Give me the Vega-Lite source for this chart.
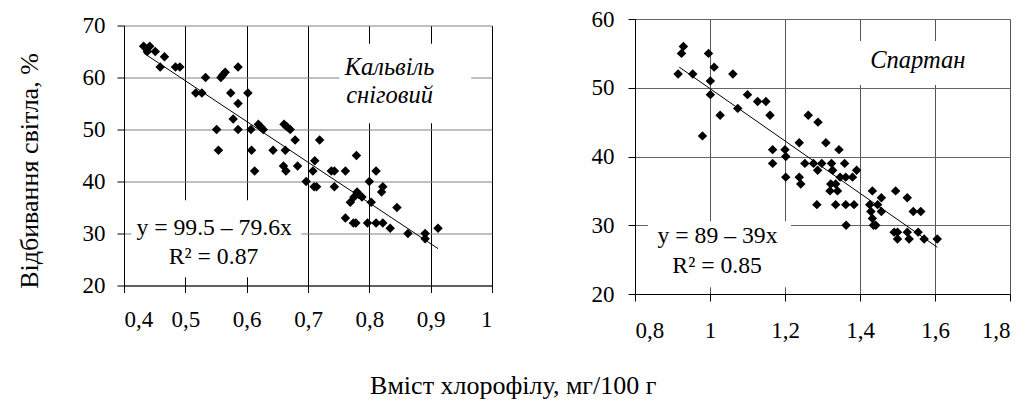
{
  "$schema": "https://vega.github.io/schema/vega-lite/v6.json",
  "background": "white",
  "padding": {"left": 15, "top": 8, "right": 2, "bottom": 5},
  "config": {
    "font": "'Liberation Serif', 'Times New Roman', 'DejaVu Serif', serif",
    "view": {"stroke": null},
    "text": {"font": "'Liberation Serif', 'Times New Roman', 'DejaVu Serif', serif"},
    "title": {"font": "'Liberation Serif', 'Times New Roman', 'DejaVu Serif', serif"},
    "axis": {
      "labelFont": "'Liberation Serif', 'Times New Roman', 'DejaVu Serif', serif",
      "titleFont": "'Liberation Serif', 'Times New Roman', 'DejaVu Serif', serif",
      "labelColor": "#000",
      "titleColor": "#000",
      "domainColor": "#000",
      "tickColor": "#000",
      "labelFontSize": 23,
      "titleFontSize": 26,
      "titleFontWeight": "normal",
      "tickSize": 7,
      "gridOpacity": 1,
      "gridWidth": 1,
      "domainWidth": 1
    }
  },
  "title": {"text": "Вміст хлорофілу, мг/100 г", "orient": "bottom", "anchor": "middle", "fontSize": 26, "fontWeight": "normal", "color": "#000", "offset": 31},
  "spacing": 98,
  "center": true,
  "hconcat": [
    {
      "width": 368,
      "height": 260,
      "encoding": {
        "x": {"field": "x", "type": "quantitative", "scale": {"domain": [0.4, 1.0], "nice": false, "zero": false},
          "axis": {"title": " ", "titleFontSize": 4, "titlePadding": 0, "values": [0.4, 0.5, 0.6, 0.7, 0.8, 0.9, 1.0], "labelExpr": "replace(format(datum.value, '.1~f'), '.', ',')", "grid": true, "gridColor": "#000", "labelPadding": 16}},
        "y": {"field": "y", "type": "quantitative", "scale": {"domain": [20, 70], "nice": false, "zero": false},
          "axis": {"title": "Відбивання світла, %", "values": [20, 30, 40, 50, 60, 70], "grid": true, "gridColor": "#808080", "labelPadding": 12, "titlePadding": 40, "titleY": 145}}
      },
      "layer": [
        {"data": {"name": "boxL"}, "mark": {"type": "rect", "fill": "white", "stroke": null}, "encoding": {"x2": {"field": "x2"}, "y2": {"field": "y2"}}},
        {"data": {"name": "trendL"}, "mark": {"type": "line", "color": "#000", "strokeWidth": 1}, "encoding": {}},
        {"data": {"name": "ptsL"}, "mark": {"type": "point", "shape": "diamond", "filled": true, "color": "#000", "size": 90, "opacity": 1}, "encoding": {}},
        {"data": {"name": "labL"}, "mark": {"type": "text", "fontStyle": "italic", "fontSize": 24.5, "color": "#000", "align": "center", "baseline": "middle"}, "encoding": {"text": {"field": "t"}}},
        {"data": {"name": "eqL"}, "mark": {"type": "text", "fontSize": 23.7, "color": "#000", "align": "center", "baseline": "middle"}, "encoding": {"text": {"field": "t"}}}
      ]
    },
    {
      "width": 375,
      "height": 275,
      "encoding": {
        "x": {"field": "x", "type": "quantitative", "scale": {"domain": [0.8, 1.8], "nice": false, "zero": false},
          "axis": {"title": null, "values": [0.8, 1.0, 1.2, 1.4, 1.6, 1.8], "labelExpr": "replace(format(datum.value, '.1~f'), '.', ',')", "grid": true, "gridColor": "#555", "labelPadding": 18}},
        "y": {"field": "y", "type": "quantitative", "scale": {"domain": [20, 60], "nice": false, "zero": false},
          "axis": {"title": null, "values": [20, 30, 40, 50, 60], "grid": true, "gridColor": "#666", "labelPadding": 14}}
      },
      "layer": [
        {"data": {"name": "boxR"}, "mark": {"type": "rect", "fill": "white", "stroke": null}, "encoding": {"x2": {"field": "x2"}, "y2": {"field": "y2"}}},
        {"data": {"name": "trendR"}, "mark": {"type": "line", "color": "#000", "strokeWidth": 1}, "encoding": {}},
        {"data": {"name": "ptsR"}, "mark": {"type": "point", "shape": "diamond", "filled": true, "color": "#000", "size": 90, "opacity": 1}, "encoding": {}},
        {"data": {"name": "labR"}, "mark": {"type": "text", "fontStyle": "italic", "fontSize": 24.5, "color": "#000", "align": "center", "baseline": "middle"}, "encoding": {"text": {"field": "t"}}},
        {"data": {"name": "eqR"}, "mark": {"type": "text", "fontSize": 23.7, "color": "#000", "align": "center", "baseline": "middle"}, "encoding": {"text": {"field": "t"}}}
      ]
    }
  ],
  "datasets": {
    "boxL": [{"x": 0.751, "x2": 0.966, "y": 66.5, "y2": 51.2}, {"x": 0.412, "x2": 0.689, "y": 36.4, "y2": 21.6}],
    "trendL": [{"x": 0.432, "y": 64.7}, {"x": 0.912, "y": 27.1}],
    "labL": [{"x": 0.833, "y": 61.9, "t": "Кальвіль"}, {"x": 0.833, "y": 56.5, "t": "сніговий"}],
    "eqL": [{"x": 0.547, "y": 31.0, "t": "y = 99.5 – 79.6x"}, {"x": 0.546, "y": 25.4, "t": "R² = 0.87"}],
    "ptsL": [
      {"x": 0.432, "y": 66}, {"x": 0.438, "y": 65}, {"x": 0.442, "y": 66}, {"x": 0.451, "y": 65}, {"x": 0.459, "y": 62},
      {"x": 0.466, "y": 64}, {"x": 0.484, "y": 62}, {"x": 0.491, "y": 62}, {"x": 0.517, "y": 57}, {"x": 0.527, "y": 57},
      {"x": 0.533, "y": 60}, {"x": 0.551, "y": 50}, {"x": 0.554, "y": 46}, {"x": 0.558, "y": 60}, {"x": 0.561, "y": 60.5},
      {"x": 0.565, "y": 61}, {"x": 0.574, "y": 57}, {"x": 0.578, "y": 52}, {"x": 0.586, "y": 55}, {"x": 0.586, "y": 62},
      {"x": 0.586, "y": 50}, {"x": 0.602, "y": 57}, {"x": 0.607, "y": 50}, {"x": 0.608, "y": 46}, {"x": 0.613, "y": 42},
      {"x": 0.619, "y": 51}, {"x": 0.623, "y": 50.5}, {"x": 0.627, "y": 50}, {"x": 0.643, "y": 46}, {"x": 0.661, "y": 51},
      {"x": 0.666, "y": 50.5}, {"x": 0.671, "y": 50}, {"x": 0.663, "y": 46}, {"x": 0.660, "y": 43}, {"x": 0.664, "y": 42},
      {"x": 0.679, "y": 48}, {"x": 0.683, "y": 43}, {"x": 0.697, "y": 40}, {"x": 0.708, "y": 42}, {"x": 0.711, "y": 44},
      {"x": 0.710, "y": 39}, {"x": 0.714, "y": 39}, {"x": 0.719, "y": 48}, {"x": 0.738, "y": 42}, {"x": 0.743, "y": 42},
      {"x": 0.743, "y": 39}, {"x": 0.761, "y": 42}, {"x": 0.761, "y": 33}, {"x": 0.769, "y": 36}, {"x": 0.774, "y": 32},
      {"x": 0.778, "y": 32}, {"x": 0.779, "y": 45}, {"x": 0.775, "y": 37}, {"x": 0.780, "y": 38}, {"x": 0.783, "y": 37.5},
      {"x": 0.788, "y": 37}, {"x": 0.800, "y": 40}, {"x": 0.803, "y": 36}, {"x": 0.797, "y": 32}, {"x": 0.811, "y": 42},
      {"x": 0.811, "y": 32}, {"x": 0.820, "y": 38}, {"x": 0.822, "y": 39}, {"x": 0.822, "y": 32}, {"x": 0.834, "y": 31},
      {"x": 0.845, "y": 35}, {"x": 0.863, "y": 30}, {"x": 0.891, "y": 30}, {"x": 0.891, "y": 29}, {"x": 0.912, "y": 31}
    ],
    "boxR": [{"x": 1.38, "x2": 1.72, "y": 56.8, "y2": 50.4}, {"x": 0.835, "x2": 1.216, "y": 30.6, "y2": 21}],
    "trendR": [{"x": 0.918, "y": 53.0}, {"x": 1.606, "y": 26.8}],
    "labR": [{"x": 1.554, "y": 53.9, "t": "Спартан"}],
    "eqR": [{"x": 1.02, "y": 28.5, "t": "y = 89 – 39x"}, {"x": 1.019, "y": 24.1, "t": "R² = 0.85"}],
    "ptsR": [
      {"x": 0.915, "y": 52}, {"x": 0.924, "y": 55}, {"x": 0.929, "y": 56}, {"x": 0.954, "y": 52}, {"x": 0.980, "y": 43},
      {"x": 0.996, "y": 55}, {"x": 1.001, "y": 51}, {"x": 1.001, "y": 49}, {"x": 1.011, "y": 53}, {"x": 1.027, "y": 46},
      {"x": 1.061, "y": 52}, {"x": 1.074, "y": 47}, {"x": 1.100, "y": 49}, {"x": 1.127, "y": 48}, {"x": 1.149, "y": 48},
      {"x": 1.160, "y": 46}, {"x": 1.167, "y": 41}, {"x": 1.167, "y": 39}, {"x": 1.200, "y": 41}, {"x": 1.202, "y": 40},
      {"x": 1.202, "y": 37}, {"x": 1.238, "y": 42}, {"x": 1.238, "y": 37}, {"x": 1.242, "y": 36}, {"x": 1.253, "y": 39},
      {"x": 1.262, "y": 46}, {"x": 1.276, "y": 39}, {"x": 1.285, "y": 33}, {"x": 1.287, "y": 38}, {"x": 1.288, "y": 45},
      {"x": 1.298, "y": 39}, {"x": 1.309, "y": 42}, {"x": 1.324, "y": 39}, {"x": 1.327, "y": 38}, {"x": 1.322, "y": 36},
      {"x": 1.320, "y": 35}, {"x": 1.335, "y": 36}, {"x": 1.335, "y": 33}, {"x": 1.340, "y": 35}, {"x": 1.344, "y": 41},
      {"x": 1.347, "y": 37}, {"x": 1.359, "y": 39}, {"x": 1.362, "y": 37}, {"x": 1.362, "y": 33}, {"x": 1.363, "y": 30},
      {"x": 1.380, "y": 37}, {"x": 1.384, "y": 33}, {"x": 1.391, "y": 38}, {"x": 1.426, "y": 33}, {"x": 1.429, "y": 32},
      {"x": 1.433, "y": 35}, {"x": 1.433, "y": 31}, {"x": 1.436, "y": 30}, {"x": 1.442, "y": 30}, {"x": 1.447, "y": 33},
      {"x": 1.457, "y": 34}, {"x": 1.457, "y": 32}, {"x": 1.495, "y": 35}, {"x": 1.491, "y": 29}, {"x": 1.500, "y": 29},
      {"x": 1.500, "y": 28}, {"x": 1.526, "y": 34}, {"x": 1.526, "y": 29}, {"x": 1.531, "y": 28}, {"x": 1.542, "y": 32},
      {"x": 1.562, "y": 32}, {"x": 1.555, "y": 29}, {"x": 1.571, "y": 28}, {"x": 1.606, "y": 28}
    ]
  }
}
